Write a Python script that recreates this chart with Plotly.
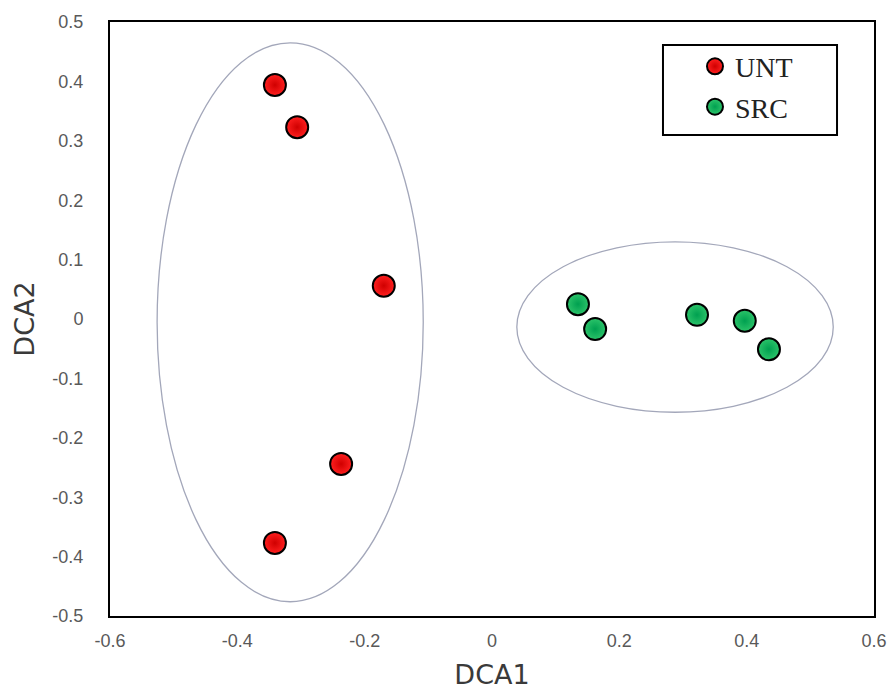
import plotly.graph_objects as go

# ---- data ----
unt_x = [-0.341, -0.306, -0.170, -0.237, -0.341]
unt_y = [0.394, 0.323, 0.056, -0.244, -0.377]
src_x = [0.135, 0.162, 0.322, 0.397, 0.435]
src_y = [0.025, -0.017, 0.007, -0.003, -0.051]

x_ticks = [-0.6, -0.4, -0.2, 0, 0.2, 0.4, 0.6]
x_tick_labels = ["-0.6", "-0.4", "-0.2", "0", "0.2", "0.4", "0.6"]
y_ticks = [-0.5, -0.4, -0.3, -0.2, -0.1, 0, 0.1, 0.2, 0.3, 0.4, 0.5]
y_tick_labels = ["-0.5", "-0.4", "-0.3", "-0.2", "-0.1", "0", "0.1", "0.2", "0.3", "0.4", "0.5"]

# group ellipses (x0, x1, y0, y1) in data units
unt_ellipse = [-0.526, -0.108, -0.476, 0.465]
src_ellipse = [0.039, 0.536, -0.157, 0.130]

fig = go.Figure()

fig.add_trace(go.Scatter(
    x=unt_x, y=unt_y, mode="markers", name="UNT",
    marker=dict(size=22, color="#FF2020", line=dict(color="black", width=2),
                gradient=dict(type="radial", color="#D00000")),
    legendgroup="a",
))
fig.add_trace(go.Scatter(
    x=src_x, y=src_y, mode="markers", name="SRC",
    marker=dict(size=22, color="#2CC46A", line=dict(color="black", width=2),
                gradient=dict(type="radial", color="#00A050")),
    legendgroup="b",
))

ell_line = dict(color="#A3A7BA", width=1.3)
for e in (unt_ellipse, src_ellipse):
    fig.add_shape(type="circle", xref="x", yref="y",
                  x0=e[0], x1=e[1], y0=e[2], y1=e[3],
                  line=ell_line, layer="below")

# legend frame
fig.add_shape(type="rect", xref="paper", yref="paper",
              x0=0.7238, x1=0.9516, y0=0.8098, y1=0.9613,
              line=dict(color="black", width=2), fillcolor="white", layer="below")

axis_common = dict(
    showgrid=False, zeroline=False, showline=True, linecolor="black", linewidth=2,
    mirror=True, ticks="", automargin=False, ticklabeloverflow="allow",
    tickfont=dict(family="Liberation Sans", size=18, color="#595959"),
)

fig.update_layout(
    width=889, height=690,
    margin=dict(l=110, r=15, t=22, b=74),
    paper_bgcolor="white", plot_bgcolor="white",
    showlegend=True,
    legend=dict(x=0.7657, y=0.967, xanchor="left", yanchor="top",
                bgcolor="rgba(0,0,0,0)", borderwidth=0,
                font=dict(family="Liberation Serif", size=28, color="#222222"),
                tracegroupgap=1, itemsizing="trace"),
    xaxis=dict(range=[-0.6, 0.6], tickvals=x_ticks, ticktext=x_tick_labels,
               ticklabelstandoff=7,
               title=dict(text="DCA1", font=dict(family="DejaVu Sans", size=27, color="#3A3A3A"),
                          standoff=24),
               **axis_common),
    yaxis=dict(range=[-0.5, 0.5], tickvals=y_ticks, ticktext=y_tick_labels,
               ticklabelstandoff=21,
               title=dict(text="DCA2", font=dict(family="DejaVu Sans", size=27, color="#3A3A3A"),
                          standoff=10),
               **axis_common),
)

fig.write_html(
    "out.html",
    config={"displayModeBar": False},
    post_script="document.body.style.margin='0';document.documentElement.style.overflow='hidden';",
)
